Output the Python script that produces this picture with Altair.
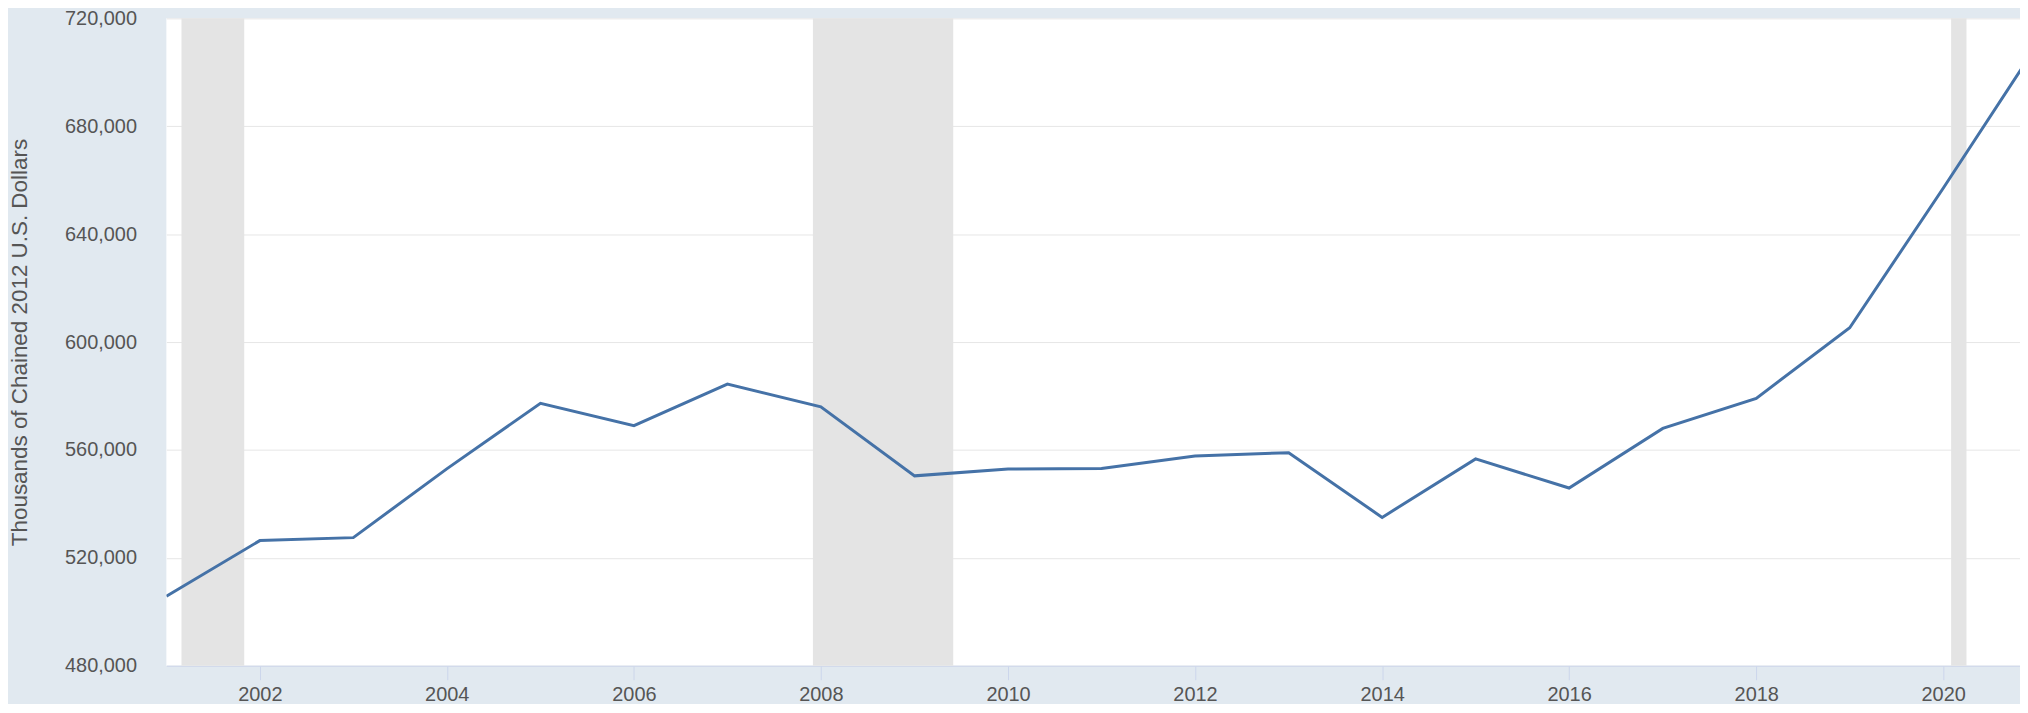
import altair as alt
import pandas as pd

# ---- data ----
dates = [f"{y}-01-01" for y in range(2001, 2022)]
values = [505800, 526400, 527500, 553000, 577300, 569000, 584400, 576000,
          550400, 552900, 553100, 557800, 559000, 535000, 556700, 545900,
          568000, 579100, 605300, 657000, 710000]

rec_start = ["2001-03-01", "2007-12-01", "2020-02-01"]
rec_end = ["2001-11-01", "2009-06-01", "2020-04-01"]

y_ticks = [480000, 520000, 560000, 600000, 640000, 680000, 720000]
x_tick_years = [2002, 2004, 2006, 2008, 2010, 2012, 2014, 2016, 2018, 2020]

y_title = "Thousands of Chained 2012 U.S. Dollars"

df = pd.DataFrame({"date": dates, "value": values})
rec = pd.DataFrame({"start": rec_start, "end": rec_end})

W, H = 1861, 650
FONT = "Liberation Sans"
TXT = "#555555"

x_scale = alt.Scale(
    type="utc",
    domain=[alt.DateTime(year=2001, month=1, date=1, utc=True),
            alt.DateTime(year=2020, month=10, date=27, utc=True)],
)
y_scale = alt.Scale(domain=[480000, 720000], nice=False, zero=False)

x_axis = alt.Axis(
    title=None,
    values=[alt.DateTime(year=y, month=1, date=1, utc=True) for y in x_tick_years],
    format="%Y",
    grid=False,
    tickSize=14,
    tickColor="#ccd6eb",
    domainColor="#ccd6eb",
    labelPadding=5,
    labelFontSize=20,
    labelColor=TXT,
    labelFont=FONT,
)

y_axis = alt.Axis(
    title=y_title,
    values=y_ticks,
    format=",d",
    grid=True,
    gridColor="#e6e6e6",
    gridWidth=1,
    domain=False,
    ticks=False,
    labelPadding=30,
    labelFontSize=20,
    labelColor=TXT,
    labelFont=FONT,
    titleFont=FONT,
    titleFontSize=22.5,
    titleFontWeight="normal",
    titleColor=TXT,
    titleAngle=270,
    titleBaseline="middle",
    titleAlign="center",
    titleX=-147,
    titleY=325,
)

recess = alt.Chart(rec).mark_rect(color="#e4e4e4").encode(
    x=alt.X("start:T", scale=x_scale, axis=x_axis),
    x2="end:T",
    y=alt.value(0),
    y2=alt.value(H),
)

line = alt.Chart(df).mark_line(color="#4572a7", strokeWidth=3, clip=True).encode(
    x=alt.X("date:T", scale=x_scale, axis=x_axis),
    y=alt.Y("value:Q", scale=y_scale, axis=y_axis),
)

chart = alt.layer(recess, line).properties(
    width=W,
    height=H,
    background="#e1e9f0",
    autosize=alt.AutoSizeParams(type="none"),
    padding={"left": 159, "top": 9, "right": 0, "bottom": 37},
).configure_view(fill="white", stroke=None)

chart.save("out.html", embed_options={"renderer": "svg", "actions": False})
